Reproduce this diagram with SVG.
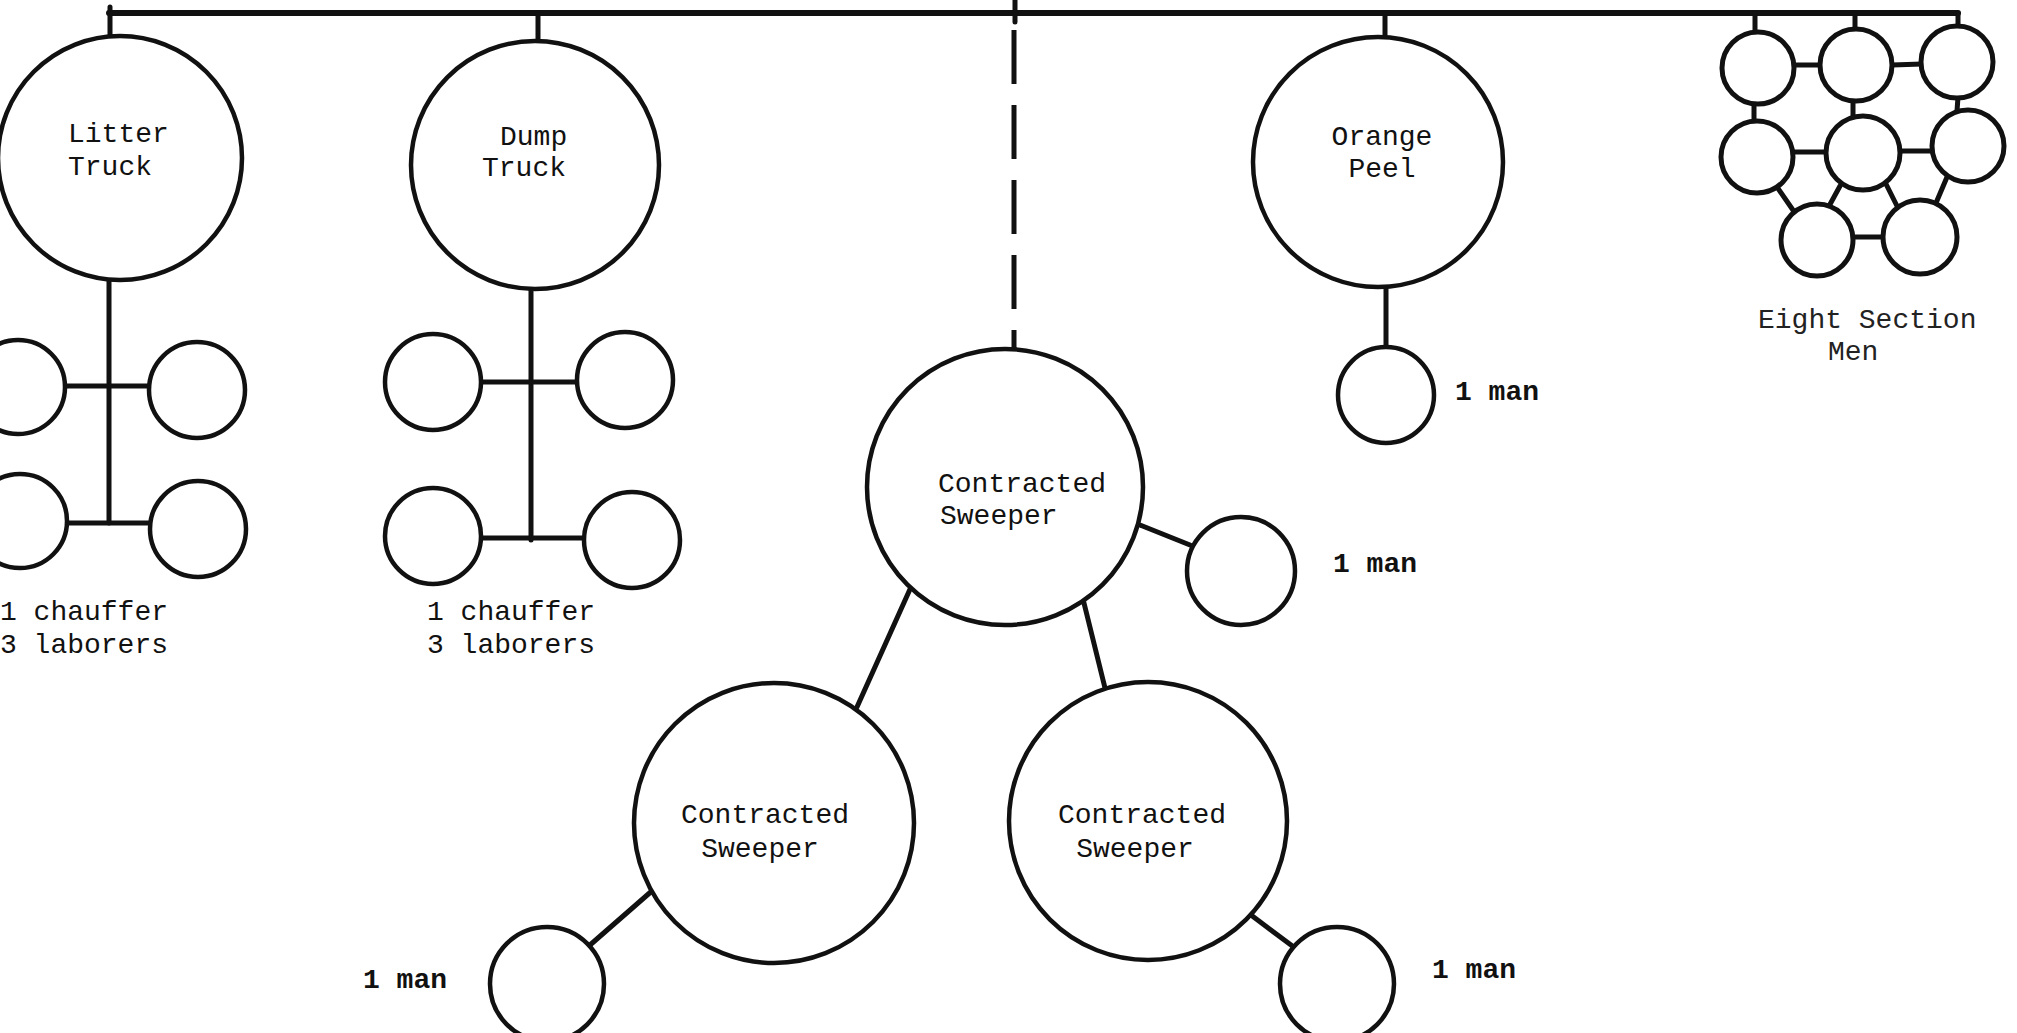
<svg xmlns="http://www.w3.org/2000/svg" width="2017" height="1033" viewBox="0 0 2017 1033">
<style>
.n{fill:#fff;stroke:#111;stroke-width:4.5}
.s{fill:#fff;stroke:#111;stroke-width:5}
.c line,.c path{stroke:#111;stroke-width:5;fill:none;stroke-linecap:round}
.t{font-family:"Liberation Mono","Courier New",monospace;font-size:28px;fill:#111}
.b{font-weight:bold}
.l{font-size:28px;fill:#222}
</style>
<rect width="2017" height="1033" fill="#fff"/>
<g id="connectors" class="c">
  <line x1="109" y1="13" x2="1958" y2="13" style="stroke-width:6"/>
  <line x1="110" y1="7" x2="110" y2="38"/>
  <line x1="538" y1="13" x2="538" y2="42"/>
  <line x1="1015" y1="0" x2="1015" y2="22"/>
  <line x1="1014" y1="30" x2="1014" y2="352" style="stroke-dasharray:54 21;stroke-linecap:butt"/>
  <line x1="1385" y1="13" x2="1385" y2="39"/>
  <line x1="1755" y1="13" x2="1755" y2="33"/>
  <line x1="1855" y1="13" x2="1855" y2="30"/>
  <line x1="1958" y1="13" x2="1958" y2="27"/>
  <line x1="109" y1="280" x2="109" y2="523"/>
  <line x1="65" y1="386" x2="147" y2="386"/>
  <line x1="67" y1="523" x2="150" y2="523"/>
  <line x1="531" y1="289" x2="531" y2="540"/>
  <line x1="482" y1="382" x2="576" y2="382"/>
  <line x1="482" y1="538" x2="584" y2="538"/>
  <line x1="1386" y1="285" x2="1386" y2="347"/>
  <line x1="1140" y1="525" x2="1190" y2="545"/>
  <line x1="911" y1="587" x2="857" y2="707"/>
  <line x1="1083" y1="599" x2="1105" y2="688"/>
  <line x1="653" y1="890" x2="590" y2="945"/>
  <line x1="1247" y1="912" x2="1295" y2="948"/>
  <line x1="1795" y1="65" x2="1820" y2="65"/>
  <line x1="1892" y1="65" x2="1922" y2="64"/>
  <line x1="1754" y1="103" x2="1754" y2="122"/>
  <line x1="1853" y1="100" x2="1853" y2="117"/>
  <line x1="1958" y1="97" x2="1957" y2="111"/>
  <line x1="1793" y1="152" x2="1827" y2="152"/>
  <line x1="1900" y1="151" x2="1932" y2="151"/>
  <line x1="1775" y1="184" x2="1795" y2="213"/>
  <line x1="1840" y1="186" x2="1828" y2="208"/>
  <line x1="1882" y1="176" x2="1900" y2="212"/>
  <line x1="1950" y1="170" x2="1936" y2="203"/>
  <line x1="1852" y1="237" x2="1883" y2="237"/>
</g>
<g id="litter-truck">
  <circle class="n" cx="120" cy="158" r="122"/>
  <text class="t" x="68" y="142">Litter</text>
  <text class="t" x="68" y="175">Truck</text>
</g>
<g id="litter-crew-1"><circle class="n" cx="18" cy="387" r="47"/></g>
<g id="litter-crew-2"><circle class="n" cx="197" cy="390" r="48"/></g>
<g id="litter-crew-3"><circle class="n" cx="20" cy="521" r="47"/></g>
<g id="litter-crew-4"><circle class="n" cx="198" cy="529" r="48"/></g>
<g id="litter-label">
  <text class="t" x="0" y="620">1 chauffer</text>
  <text class="t" x="0" y="653">3 laborers</text>
</g>
<g id="dump-truck">
  <circle class="n" cx="535" cy="165" r="124"/>
  <text class="t" x="500" y="145">Dump</text>
  <text class="t" x="482" y="176">Truck</text>
</g>
<g id="dump-crew-1"><circle class="n" cx="433" cy="382" r="48"/></g>
<g id="dump-crew-2"><circle class="n" cx="625" cy="380" r="48"/></g>
<g id="dump-crew-3"><circle class="n" cx="433" cy="536" r="48"/></g>
<g id="dump-crew-4"><circle class="n" cx="632" cy="540" r="48"/></g>
<g id="dump-label">
  <text class="t" x="427" y="620">1 chauffer</text>
  <text class="t" x="427" y="653">3 laborers</text>
</g>
<g id="sweeper-main">
  <circle class="n" cx="1005" cy="487" r="138"/>
  <text class="t" x="938" y="492">Contracted</text>
  <text class="t" x="940" y="524">Sweeper</text>
</g>
<g id="sweeper-main-man">
  <circle class="n" cx="1241" cy="571" r="54"/>
  <text class="t b" x="1333" y="572">1 man</text>
</g>
<g id="sweeper-left">
  <circle class="n" cx="774" cy="823" r="140"/>
  <text class="t" x="765" y="823" text-anchor="middle">Contracted</text>
  <text class="t" x="760" y="857" text-anchor="middle">Sweeper</text>
</g>
<g id="sweeper-left-man">
  <circle class="n" cx="547" cy="984" r="57"/>
  <text class="t b" x="363" y="988">1 man</text>
</g>
<g id="sweeper-right">
  <circle class="n" cx="1148" cy="821" r="139"/>
  <text class="t" x="1142" y="823" text-anchor="middle">Contracted</text>
  <text class="t" x="1135" y="857" text-anchor="middle">Sweeper</text>
</g>
<g id="sweeper-right-man">
  <circle class="n" cx="1337" cy="984" r="57"/>
  <text class="t b" x="1432" y="978">1 man</text>
</g>
<g id="orange-peel">
  <circle class="n" cx="1378" cy="162" r="125"/>
  <text class="t" x="1382" y="145" text-anchor="middle">Orange</text>
  <text class="t" x="1382" y="177" text-anchor="middle">Peel</text>
</g>
<g id="orange-peel-man">
  <circle class="n" cx="1386" cy="395" r="48"/>
  <text class="t b" x="1455" y="400">1 man</text>
</g>
<g id="section-man-1"><circle class="s" cx="1758" cy="68" r="36"/></g>
<g id="section-man-2"><circle class="s" cx="1856" cy="65" r="36"/></g>
<g id="section-man-3"><circle class="s" cx="1957" cy="62" r="36"/></g>
<g id="section-man-4"><circle class="s" cx="1757" cy="157" r="36"/></g>
<g id="section-man-5"><circle class="s" cx="1863" cy="153" r="37"/></g>
<g id="section-man-6"><circle class="s" cx="1968" cy="146" r="36"/></g>
<g id="section-man-7"><circle class="s" cx="1817" cy="240" r="36"/></g>
<g id="section-man-8"><circle class="s" cx="1920" cy="237" r="37"/></g>
<g id="section-label">
  <text class="t l" x="1758" y="328">Eight Section</text>
  <text class="t l" x="1828" y="360">Men</text>
</g>
</svg>
